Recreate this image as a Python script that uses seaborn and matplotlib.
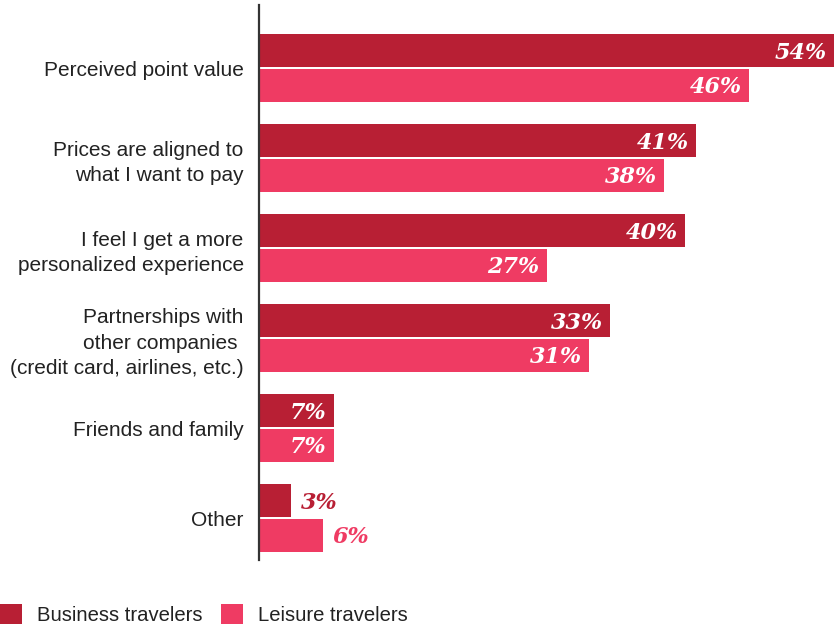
import matplotlib
matplotlib.use("Agg")
import matplotlib.pyplot as plt
import seaborn as sns
import pandas as pd
from matplotlib.patches import Patch

categories = [
    "Perceived point value",
    "Prices are aligned to\nwhat I want to pay",
    "I feel I get a more\npersonalized experience",
    "Partnerships with\nother companies \n(credit card, airlines, etc.)",
    "Friends and family",
    "Other",
]
business = [54, 41, 40, 33, 7, 3]
leisure = [46, 38, 27, 31, 7, 6]
series_names = ["Business travelers", "Leisure travelers"]
colors = ["#B81F34", "#EF3B63"]

rows = []
for c, b, l in zip(categories, business, leisure):
    rows.append({"cat": c, "series": series_names[0], "value": b})
    rows.append({"cat": c, "series": series_names[1], "value": l})
df = pd.DataFrame(rows)

sns.set_style("white")
plt.rcParams['font.family'] = ['Liberation Sans', 'DejaVu Sans']

fig = plt.figure(figsize=(8.34, 6.25), dpi=100)
ax = fig.add_axes([259/834, 1 - 560/625, 1 - 259/834, (560 - 5)/625])

sns.barplot(data=df, y="cat", x="value", hue="series", orient="h",
            palette=colors, hue_order=series_names, order=categories,
            width=0.76, gap=0.03, ax=ax, legend=False, saturation=1,
            edgecolor="none", linewidth=0)

ax.set_xlim(0, 54)
ax.set_ylim(5 + 42/90, -63/90)
ax.set_xlabel("")
ax.set_ylabel("")
ax.set_xticks([])
for s in ["top", "right", "bottom"]:
    ax.spines[s].set_visible(False)
ax.spines["left"].set_color("#333333")
ax.spines["left"].set_linewidth(1.6)
ax.tick_params(axis="y", length=0, pad=11, labelsize=15, labelcolor="#222222")
for t in ax.get_yticklabels():
    t.set_linespacing(1.42)

for cont, col in zip(ax.containers, colors):
    for bar in cont:
        v = bar.get_width()
        y = bar.get_y() + bar.get_height() / 2
        txt = f"{v:.0f}%"
        kw = dict(fontsize=16, fontweight="bold", fontstyle="italic",
                  family="DejaVu Serif", va="center")
        if v >= 7:
            ax.annotate(txt, (v, y), xytext=(-5, -1.5), textcoords="offset points",
                        ha="right", color="white", **kw)
        else:
            ax.annotate(txt, (v, y), xytext=(7, -1.5), textcoords="offset points",
                        ha="left", color=col, annotation_clip=False, **kw)

handles = [Patch(facecolor=c, edgecolor="none", label=n) for c, n in zip(colors, series_names)]
fig.legend(handles=handles, loc="lower left", bbox_to_anchor=(0, 0), ncol=2,
           frameon=False, fontsize=14.6, handlelength=1.08, handleheight=1.08,
           handletextpad=0.74, columnspacing=0.9, borderpad=0, borderaxespad=0,
           labelcolor="#222222")

fig.savefig("out.png", dpi=100)
